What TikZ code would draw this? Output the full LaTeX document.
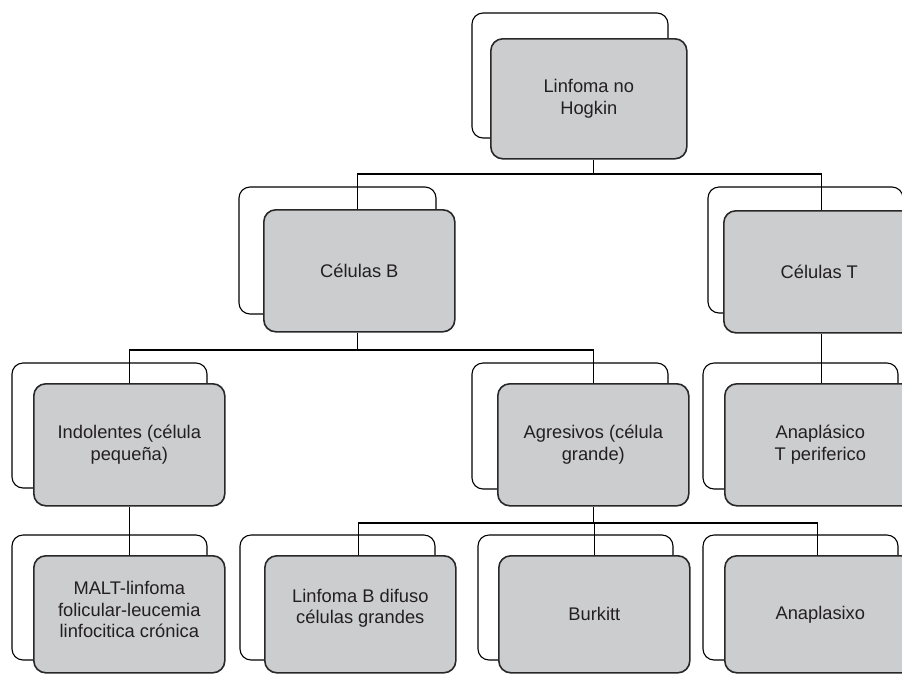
\documentclass[tikz,border=0pt]{standalone}
\usepackage{fontspec}
\setmainfont{Liberation Sans}
\definecolor{boxgray}{RGB}{204,205,207}
\definecolor{txt}{RGB}{35,31,32}
\definecolor{edge}{RGB}{40,40,40}
\begin{document}
\begin{tikzpicture}[x=1pt,y=-1pt,
  front/.style={draw=edge, line width=1.6pt, fill=boxgray, rounded corners=12pt,
    anchor=north west, inner sep=0pt, minimum width=191pt, minimum height=122pt,
    align=center, text=txt, font=\fontsize{18.3}{21.5}\selectfont},
  backbox/.style={draw=black, line width=1.1pt, rounded corners=11pt},
  conn/.style={draw=black, line width=1.1pt}]
\useasboundingbox (0,0) rectangle (902,673);
\clip (0,0) rectangle (902,673);
\fill[white] (0,0) rectangle (902,673);
% back boxes
\draw[backbox] (472,13) rectangle (668,138);
\draw[backbox] (239,187) rectangle (436,314);
\draw[backbox] (708,187) rectangle (903,313);
\draw[backbox] (12,363) rectangle (207,488);
\draw[backbox] (472,363) rectangle (668,489);
\draw[backbox] (703,363) rectangle (898,489);
\draw[backbox] (12,535) rectangle (207,660);
\draw[backbox] (240,535) rectangle (435,660);
\draw[backbox] (478,535) rectangle (673,660);
\draw[backbox] (703,535) rectangle (898,660);
% front box positions
\path (490,38) node[front, minimum width=196pt, minimum height=120pt, draw=none, fill=none] (top) {};
\path (263,209) node[front, draw=none, fill=none] (B) {};
\path (723,210) node[front, draw=none, fill=none] (T) {};
\path (33,383) node[front, draw=none, fill=none] (ind) {};
\path (497,383) node[front, draw=none, fill=none] (agr) {};
\path (724,383) node[front, draw=none, fill=none] (anat) {};
\path (33,555) node[front, minimum height=117pt, draw=none, fill=none] (malt) {};
\path (264,555) node[front, minimum height=117pt, draw=none, fill=none] (lbd) {};
\path (498,555) node[front, minimum height=117pt, draw=none, fill=none] (bur) {};
\path (724,555) node[front, minimum height=117pt, draw=none, fill=none] (anx) {};
% connectors
\coordinate (bar1) at (0,174);
\coordinate (bar2) at (0,350);
\coordinate (bar3) at (0,523);
\draw[conn] ([xshift=5pt]top.south) -- ([xshift=5pt]top.south |- bar1);
\draw[conn] ([xshift=-2pt]B.north) -- ([xshift=-2pt]B.north |- bar1) -- ([xshift=2pt]T.north |- bar1) -- ([xshift=2pt]T.north);
\draw[conn] ([xshift=-2pt]B.south) -- ([xshift=-2pt]B.south |- bar2);
\draw[conn] (ind.north) -- (ind.north |- bar2) -- (agr.north |- bar2) -- (agr.north);
\draw[conn] ([xshift=2pt]T.south) -- ([xshift=2pt]T.south |- anat.north);
\draw[conn] (ind.south) -- (malt.north);
\draw[conn] (agr.south) -- (agr.south |- bar3);
\draw[conn] ([xshift=-2pt]lbd.north) -- ([xshift=-2pt]lbd.north |- bar3) -- ([xshift=-3pt]anx.north |- bar3) -- ([xshift=-3pt]anx.north);
\draw[conn] (bur.north) -- (bur.north |- bar3);
% front boxes drawn
\node[front, minimum width=196pt, minimum height=120pt] at (490,38) {Linfoma no\\Hogkin};
\node[front] at (263,209) {Células B};
\node[front] at (723,210) {Células T};
\node[front] at (33,383) {Indolentes (célula\\pequeña)};
\node[front] at (497,383) {Agresivos (célula\\grande)};
\node[front] at (724,383) {Anaplásico\\T periferico};
\node[front, minimum height=117pt] at (33,555) {MALT-linfoma\\folicular-leucemia\\linfocitica crónica\\[-12pt]};
\node[front, minimum height=117pt] at (264,555) {Linfoma B difuso\\células grandes\\[-6pt]};
\node[front, minimum height=117pt] at (498,555) {Burkitt};
\node[front, minimum height=117pt] at (724,555) {Anaplasixo};
\end{tikzpicture}
\end{document}
